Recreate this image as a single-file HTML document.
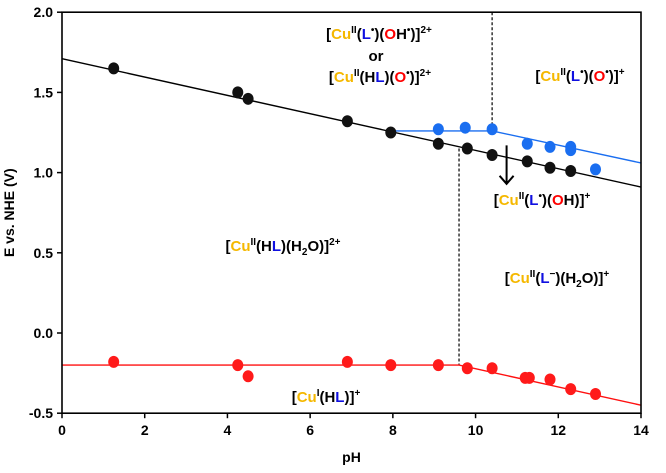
<!DOCTYPE html>
<html><head><meta charset="utf-8"><style>
body{margin:0;background:#fff;width:666px;height:468px;overflow:hidden}
svg text{font-family:"Liberation Sans",Arial,sans-serif;font-weight:bold}
.o{fill:#f5b800}.b{fill:#1010e0}.r{fill:#ff0000}
</style></head><body>
<svg id="chart" width="666" height="468" viewBox="0 0 666 468" xmlns="http://www.w3.org/2000/svg">
<g id="plot"></g>
<g font-size="15">
<text x="379" y="39" text-anchor="middle">[<tspan class="o">Cu</tspan><tspan font-size="10" dy="-6">II</tspan><tspan dy="6">(</tspan><tspan class="b">L</tspan><tspan font-size="10" dy="-6">•</tspan><tspan dy="6">)(</tspan><tspan class="r">O</tspan>H<tspan font-size="10" dy="-6">•</tspan><tspan dy="6">)]</tspan><tspan font-size="10" dy="-6">2+</tspan></text>
<text x="376" y="61" text-anchor="middle">or</text>
<text x="380" y="82" text-anchor="middle">[<tspan class="o">Cu</tspan><tspan font-size="10" dy="-6">II</tspan><tspan dy="6">(H</tspan><tspan class="b">L</tspan>)(<tspan class="r">O</tspan><tspan font-size="10" dy="-6">•</tspan><tspan dy="6">)]</tspan><tspan font-size="10" dy="-6">2+</tspan></text>
<text x="580" y="81" text-anchor="middle">[<tspan class="o">Cu</tspan><tspan font-size="10" dy="-6">II</tspan><tspan dy="6">(</tspan><tspan class="b">L</tspan><tspan font-size="10" dy="-6">•</tspan><tspan dy="6">)(</tspan><tspan class="r">O</tspan><tspan font-size="10" dy="-6">•</tspan><tspan dy="6">)]</tspan><tspan font-size="10" dy="-6">+</tspan></text>
<text x="542" y="205" text-anchor="middle">[<tspan class="o">Cu</tspan><tspan font-size="10" dy="-6">II</tspan><tspan dy="6">(</tspan><tspan class="b">L</tspan><tspan font-size="10" dy="-6">•</tspan><tspan dy="6">)(</tspan><tspan class="r">O</tspan>H)]<tspan font-size="10" dy="-6">+</tspan></text>
<text x="283" y="251" text-anchor="middle">[<tspan class="o">Cu</tspan><tspan font-size="10" dy="-6">II</tspan><tspan dy="6">(H</tspan><tspan class="b">L</tspan>)(H<tspan font-size="10" dy="4">2</tspan><tspan dy="-4">O)]</tspan><tspan font-size="10" dy="-6">2+</tspan></text>
<text x="557" y="283" text-anchor="middle">[<tspan class="o">Cu</tspan><tspan font-size="10" dy="-6">II</tspan><tspan dy="6">(</tspan><tspan class="b">L</tspan><tspan font-size="10" dy="-6">−</tspan><tspan dy="6">)(H</tspan><tspan font-size="10" dy="4">2</tspan><tspan dy="-4">O)]</tspan><tspan font-size="10" dy="-6">+</tspan></text>
<text x="326" y="402" text-anchor="middle">[<tspan class="o">Cu</tspan><tspan font-size="10" dy="-6">I</tspan><tspan dy="6">(H</tspan><tspan class="b">L</tspan>)]<tspan font-size="10" dy="-6">+</tspan></text>
</g>
</svg>
<script>
const xTicks=[0,2,4,6,8,10,12,14];
const yTicks=[2.0,1.5,1.0,0.5,0.0,-0.5];
const blackX=[1.25,4.25,4.5,6.9,7.95,9.1,9.8,10.4,11.25,11.8,12.3];
const blackY=[1.65,1.50,1.46,1.32,1.25,1.18,1.15,1.11,1.07,1.03,1.01];
const blueX=[9.1,9.75,10.4,11.25,11.8,12.3,12.3,12.9];
const blueY=[1.27,1.28,1.27,1.18,1.16,1.16,1.14,1.02];
const redX=[1.25,4.25,4.5,6.9,7.95,9.1,9.8,10.4,11.2,11.3,11.8,12.3,12.9];
const redY=[-0.18,-0.2,-0.27,-0.18,-0.2,-0.2,-0.22,-0.22,-0.28,-0.28,-0.29,-0.35,-0.38];
const blackLineX=[0,14];const blackLineY=[1.71,0.91];
const blueLineX=[8,10.4,14];const blueLineY=[1.26,1.26,1.06];
const redLineX=[0,9.6,14];const redLineY=[-0.2,-0.2,-0.45];
const NS='http://www.w3.org/2000/svg';
const X=v=>62+v*(579/14);
const Y=v=>333-v*160.4;
const g=document.getElementById('plot');
function mk(t,a){const e=document.createElementNS(NS,t);for(const k in a)e.setAttribute(k,a[k]);g.appendChild(e);return e;}
let d1=mk('line',{x1:X(10.4),x2:X(10.4),y1:Y(2.0),y2:Y(1.26),stroke:'#000','stroke-dasharray':'3,2','stroke-width':1.2});


let d2=mk('line',{x1:X(9.6),x2:X(9.6),y1:Y(1.15),y2:Y(-0.2),stroke:'#000','stroke-dasharray':'3,2','stroke-width':1.2});


function line(xs,ys,c,name){const p=mk('polyline',{points:xs.map((x,i)=>X(x)+','+Y(ys[i])).join(' '),fill:'none',stroke:c,'stroke-width':1.4});

}
line(blackLineX,blackLineY,'#000','black-fit-line');
line(blueLineX,blueLineY,'#1a6ef0','blue-fit-line');
line(redLineX,redLineY,'#ff1010','red-fit-line');
function pts(xs,ys,c,name){xs.forEach((x,i)=>{const e=mk('ellipse',{cx:X(x),cy:Y(ys[i]),rx:5.5,ry:6,fill:c});

});}
pts(blackX,blackY,'#111','black-point');
pts(blueX,blueY,'#1a6ef0','blue-point');
pts(redX,redY,'#ff1a1a','red-point');
let ar=mk('path',{d:`M${X(10.75)},${Y(1.17)} V${Y(0.94)} M${X(10.75)-7},${Y(0.98)} L${X(10.75)},${Y(0.93)} L${X(10.75)+7},${Y(0.98)}`,stroke:'#000','stroke-width':2,fill:'none'});


let fr=mk('rect',{x:X(0),y:Y(2.0),width:X(14)-X(0),height:Y(-0.5)-Y(2.0),fill:'none',stroke:'#000','stroke-width':1.6});


xTicks.forEach(t=>{const l=mk('line',{x1:X(t),x2:X(t),y1:Y(-0.5),y2:Y(-0.5)+5,stroke:'#000','stroke-width':1.5});


const tx=mk('text',{x:X(t),y:Y(-0.5)+22,'text-anchor':'middle','font-size':14});tx.textContent=t;

});
yTicks.forEach(t=>{const l=mk('line',{x1:X(0)-5,x2:X(0),y1:Y(t),y2:Y(t),stroke:'#000','stroke-width':1.5});


const tx=mk('text',{x:X(0)-9,y:Y(t)+5,'text-anchor':'end','font-size':14});tx.textContent=t.toFixed(1);

});
const xt=mk('text',{x:X(7),y:462,'text-anchor':'middle','font-size':14});xt.textContent='pH';


const yt=mk('text',{x:14,y:Y(0.75),'text-anchor':'middle','font-size':14,transform:`rotate(-90 14 ${Y(0.75)})`});yt.textContent='E vs. NHE (V)';


</script>
</body></html>
